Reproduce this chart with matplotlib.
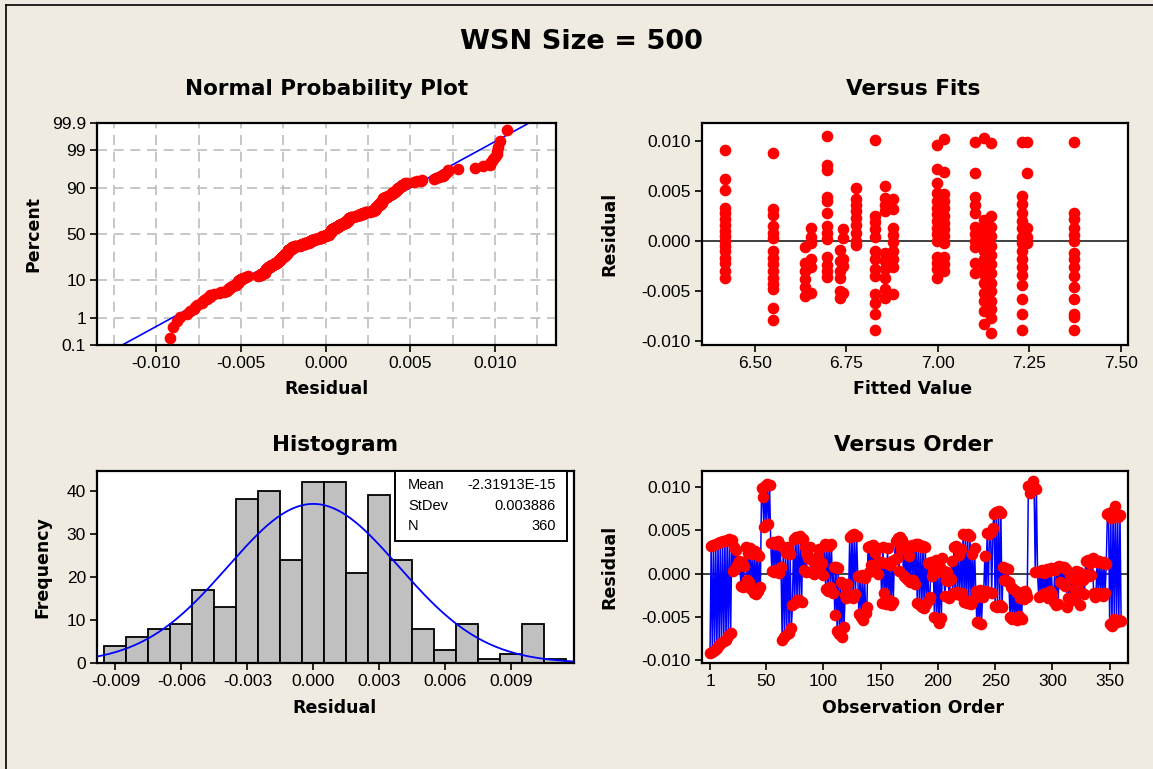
#!/usr/bin/env python3
"""
Residual plots for WSN Size = 500 (Minitab four-in-one layout).
Normal probability plot, versus fits, histogram and versus order.
"""

from statistics import NormalDist
import numpy as np
import matplotlib
matplotlib.use('Agg')
import matplotlib.pyplot as plt
from matplotlib.patches import Rectangle

# residuals in observation order, in units of 1e-4
resid_e4 = [
    # 1-20
    -92, 32, -90, 33, -88, 34, -86, 35, -82, 36, -80, 37, -78, 38, -77, 39, -72, 40, -68, 39,
    # 21-45
    3, 30, 5, 27, 10, 14, 12, -14, 13, -15, 9, 31, -8, 24, -10, 29, -18, 22, -22, 26,
    -24, 22, -20, 20, -15,
    # 46-53
    98, 88, 54, 101, 56, 103, 57, 102,
    # 54-63
    35, 3, 36, 2, 34, 4, 37, 1, 33, 8,
    # 64-72
    -76, 30, -73, 24, -70, 31, -68, 22, -63,
    # 73-82
    -36, 40, -34, 42, -31, 41, -30, 43, -33, 40,
    # 83-100
    4, 30, 2, 22, 18, 31, 2, 15, 14, 0, 4, 3, 20, 28, 8, 12, 12, -2,
    # 101-110
    34, -18, 33, -20, 32, -15, 34, -22, 7, -48,
    # 111-122
    8, -66, 6, -70, -10, -73, -12, -62, -25, -28, -12, -26,
    # 123-130
    42, -25, 44, -28, 45, -24, 43, -3,
    # 131-138
    -47, -4, -50, -2, -53, -5, -46, -38,
    # 139-150
    30, 2, 32, 10, 33, 4, 24, 11, 29, -1, 13, 13,
    # 151-162
    -34, 31, -22, 12, -35, 29, -30, 10, -36, 14, -33, 15,
    # 163-175
    38, 18, 41, 3, 42, 28, 39, -3, 33, -5, 30, -8, 20,
    # 176-192
    -10, 33, -8, 32, -12, 34, -34, 34, -36, 31, -38, 32, -40, 30, -35, 12, -30,
    # 193-212
    -27, 13, -3, 3, -50, 15, -52, 2, -57, 8, -51, 18, 3, -26, -8, 2, -9, -28, -6, 14,
    # 213-232
    -22, 30, -24, 32, -21, 21, -25, 28, -23, 45, -33, 44, -34, 46, -32, 43, -35, 23, -30, 29,
    # 233-245
    -20, -56, -26, -57, -19, -58, -27, -22, 20, -20, 47, -21, 45,
    # 246-262
    48, -23, 52, 69, -37, 71, -38, 72, -36, 70, -39, 7, -8, 6, -9, 5, -10,
    # 263-278
    -50, -15, -52, -18, -51, -20, -53, -22, -49, -28, -52, -21, -29, -20, -23, -27,
    # 279-286
    101, 93, 99, 97, 107, 100, 2, 97,
    # 287-300
    2, -27, 3, -26, 4, -24, 1, -22, 5, -28, 3, -20, 6, -24,
    # 301-320
    -33, 4, -36, 8, -35, 9, -10, 7, -12, 8, -14, 5, -38, -28, -2, -30, -5, -27, -31, -18,
    # 321-340
    3, -12, 2, -36, 0, -22, -8, -24, 14, -1, 16, -3, 12, -2, 18, -23, -27, -25, 13, -22,
    # 341-360
    14, -24, 12, -26, 13, -23, 11, 68, 70, -58, 64, -60, 72, -52, 78, -56, 65, -53, 67, -55,
]

# versus fits: fitted level of each column and the residuals seen in it (1e-4)
fit_levels = [6.420, 6.551, 6.638, 6.653, 6.697, 6.732, 6.742, 6.777, 6.830,
              6.855, 6.877, 6.997, 7.016, 7.101, 7.126, 7.146, 7.231, 7.243, 7.372]
fit_resid_e4 = [
    [91, 62, 51, 33, 28, 22, 16, 10, 5, 0, -5, -10, -17, -22, -30, -37],
    [88, 32, 26, 15, 8, 3, -10, -17, -23, -30, -37, -43, -48, -67, -79],
    [-6, -22, -30, -38, -46, -55],
    [13, 4, -2, -18, -26, -52],
    [105, 76, 71, 44, 40, 28, 15, 8, 2, -16, -24, -30, -36],
    [-9, -20, -30, -37, -50, -57],
    [12, 3, -18, -25, -52],
    [53, 42, 36, 30, 23, 16, 8, 0, -4],
    [101, 25, 19, 12, 4, -10, -18, -28, -35, -53, -62, -73, -89],
    [55, 43, 36, 30, -12, -20, -28, -37, -48, -57],
    [42, 32, 13, 6, -1, -10, -18, -26, -53],
    [96, 72, 58, 48, 40, 33, 27, 20, 13, 7, 0, -16, -22, -28, -37],
    [102, 69, 47, 40, 33, 25, 18, 12, 5, -2, -16, -23, -30],
    [99, 68, 44, 36, 28, 14, 7, 0, -6, -22, -32],
    [103, 21, 14, 6, -2, -10, -18, -26, -33, -42, -52, -60, -70, -83],
    [98, 25, 14, 5, -5, -14, -23, -32, -42, -50, -60, -68, -77, -92],
    [99, 45, 37, 28, 20, 13, 4, -2, -10, -18, -26, -34, -44, -58, -73, -89],
    [99, 68, 13, 4, -2],
    [99, 28, 22, 13, 6, 0, -12, -18, -26, -35, -46, -58, -73, -76, -89],
]

# histogram bins (centres) and frequencies
hist_centers = [-0.009, -0.008, -0.007, -0.006, -0.005, -0.004, -0.003, -0.002, -0.001,
                0.000, 0.001, 0.002, 0.003, 0.004, 0.005, 0.006, 0.007, 0.008, 0.009,
                0.010, 0.011]
hist_counts = [4, 6, 8, 9, 17, 13, 38, 40, 24, 42, 42, 21, 39, 24, 8, 3, 9, 1, 2, 9, 1]
bin_width = 0.001

# summary statistics shown in the histogram box
resid_mean = -2.31913e-15
resid_stdev = 0.003886
n_obs = 360

prob_ticks = [0.1, 1, 10, 50, 90, 99, 99.9]
prob_tick_labels = ['0.1', '1', '10', '50', '90', '99', '99.9']

W, H = 1153, 769
BG = '#EFEBE1'
RED = '#FF0000'
BLUE = '#0000FF'
TICK_FONT = 'Liberation Sans'
MS = 8.4

plt.rcParams['font.family'] = ['DejaVu Sans']
plt.rcParams['axes.unicode_minus'] = False


def px_box(left, top, right, bottom):
    """Axes rectangle from pixel edges (origin top-left)."""
    return [left / W, 1 - bottom / H, (right - left) / W, (bottom - top) / H]


def fig_text(fig, x, y, s, **kw):
    fig.text(x / W, 1 - y / H, s, ha='center', va='center', **kw)


def style_axes(ax):
    for sp in ax.spines.values():
        sp.set_linewidth(1.6)
        sp.set_color('black')
    ax.tick_params(direction='out', length=5, width=1.2, labelsize=12.5,
                   top=False, right=False, pad=3)
    for lab in ax.get_xticklabels() + ax.get_yticklabels():
        lab.set_family(TICK_FONT)


resid = np.array(resid_e4) * 1e-4
obs = np.arange(1, len(resid) + 1)

fig = plt.figure(figsize=(W / 100, H / 100), dpi=100, facecolor=BG)

# outer frame (left and top edges visible)
fig.add_artist(plt.Line2D([6 / W, 6 / W], [0, 1 - 5 / H], color='black', lw=1.2))
fig.add_artist(plt.Line2D([6 / W, 1], [1 - 5 / H, 1 - 5 / H], color='black', lw=1.2))

fig_text(fig, 581, 42, 'WSN Size = 500', fontsize=19.5, fontweight='bold')

# ---------------- Normal probability plot ----------------
nd = NormalDist()
ax1 = fig.add_axes(px_box(97, 123, 556, 345))
srt = np.sort(resid)
ranks = (np.arange(1, len(srt) + 1) - 0.3) / (len(srt) + 0.4)
zq = np.array([nd.inv_cdf(p) for p in ranks])
zlo, zhi = nd.inv_cdf(0.001), nd.inv_cdf(0.999)

for xv in np.arange(-0.0125, 0.01251, 0.0025):
    ax1.axvline(xv, color='#BEBEBE', lw=1.2, ls=(0, (6, 4)), zorder=0)
for p in prob_ticks[1:-1]:
    ax1.axhline(nd.inv_cdf(p / 100), color='#BEBEBE', lw=1.2, ls=(0, (6, 4)), zorder=0)

zline = np.linspace(zlo, zhi, 50)
ax1.plot(resid_mean + resid_stdev * zline, zline, color=BLUE, lw=1.2, zorder=2)
ax1.plot(srt, zq, 'o', color=RED, ms=MS, mec='none', zorder=3)
ax1.set_xlim(-0.0135, 0.0136)
ax1.set_ylim(zlo, zhi)
ax1.set_xticks([-0.010, -0.005, 0.0, 0.005, 0.010])
ax1.set_xticklabels(['-0.010', '-0.005', '0.000', '0.005', '0.010'])
ax1.set_yticks([nd.inv_cdf(p / 100) for p in prob_ticks])
ax1.set_yticklabels(prob_tick_labels)
style_axes(ax1)
fig_text(fig, 327, 89, 'Normal Probability Plot', fontsize=15.5, fontweight='bold')
fig_text(fig, 327, 389, 'Residual', fontsize=12.5, fontweight='bold')
fig_text(fig, 33, 234, 'Percent', fontsize=12.5, fontweight='bold', rotation=90)

# ---------------- Versus fits ----------------
ax2 = fig.add_axes(px_box(702, 123, 1128, 345))
fx = np.repeat(fit_levels, [len(c) for c in fit_resid_e4])
fy = np.concatenate([np.array(c) for c in fit_resid_e4]) * 1e-4
ax2.axhline(0, color='#404040', lw=1.4, zorder=1)
ax2.plot(fx, fy, 'o', color=RED, ms=MS, mec='none', zorder=3)
ax2.set_xlim(6.356, 7.52)
ax2.set_ylim(-0.0104, 0.0118)
ax2.set_xticks([6.50, 6.75, 7.00, 7.25, 7.50])
ax2.set_xticklabels(['6.50', '6.75', '7.00', '7.25', '7.50'])
ax2.set_yticks([-0.010, -0.005, 0.0, 0.005, 0.010])
ax2.set_yticklabels(['-0.010', '-0.005', '0.000', '0.005', '0.010'])
style_axes(ax2)
fig_text(fig, 913, 89, 'Versus Fits', fontsize=15.5, fontweight='bold')
fig_text(fig, 913, 389, 'Fitted Value', fontsize=12.5, fontweight='bold')
fig_text(fig, 609, 234, 'Residual', fontsize=12.5, fontweight='bold', rotation=90)

# ---------------- Histogram ----------------
ax3 = fig.add_axes(px_box(97, 471, 574, 663))
ax3.bar(hist_centers, hist_counts, width=bin_width, color='#C0C0C0',
        edgecolor='black', linewidth=1.3, zorder=2)
xlo, xhi = -0.00984, 0.01186
xs = np.linspace(xlo, xhi, 300)
curve = n_obs * bin_width * np.array([NormalDist(resid_mean, resid_stdev).pdf(v) for v in xs])
ax3.plot(xs, curve, color=BLUE, lw=1.3, zorder=3)
ax3.set_xlim(xlo, xhi)
ax3.set_ylim(0, 44.6)
ax3.set_xticks([-0.009, -0.006, -0.003, 0.0, 0.003, 0.006, 0.009])
ax3.set_xticklabels(['-0.009', '-0.006', '-0.003', '0.000', '0.003', '0.006', '0.009'])
ax3.set_yticks([0, 10, 20, 30, 40])
style_axes(ax3)

box = Rectangle((0.6256, 0.638), 0.36, 0.362, transform=ax3.transAxes,
                facecolor='white', edgecolor='black', lw=1.4, zorder=5)
ax3.add_patch(box)
stats_rows = [('Mean', '-2.31913E-15'), ('StDev', f'{resid_stdev:.6f}'), ('N', f'{n_obs}')]
for i, (name, val) in enumerate(stats_rows):
    yy = 0.927 - i * 0.108
    ax3.text(0.652, yy, name, transform=ax3.transAxes, ha='left', va='center',
             fontsize=10.5, family=TICK_FONT, zorder=6)
    ax3.text(0.962, yy, val, transform=ax3.transAxes, ha='right', va='center',
             fontsize=10.5, family=TICK_FONT, zorder=6)
fig_text(fig, 335, 445, 'Histogram', fontsize=15.5, fontweight='bold')
fig_text(fig, 335, 708, 'Residual', fontsize=12.5, fontweight='bold')
fig_text(fig, 42, 567, 'Frequency', fontsize=12.5, fontweight='bold', rotation=90)

# ---------------- Versus order ----------------
ax4 = fig.add_axes(px_box(702, 471, 1128, 663))
ax4.axhline(0, color='#404040', lw=1.4, zorder=1)
ax4.plot(obs, resid, color=BLUE, lw=1.1, zorder=2)
ax4.plot(obs, resid, 'o', color=RED, ms=MS, mec='none', zorder=3)
ax4.set_xlim(-6, 366)
ax4.set_ylim(-0.0103, 0.0118)
ax4.set_xticks([1, 50, 100, 150, 200, 250, 300, 350])
ax4.set_yticks([-0.010, -0.005, 0.0, 0.005, 0.010])
ax4.set_yticklabels(['-0.010', '-0.005', '0.000', '0.005', '0.010'])
style_axes(ax4)
fig_text(fig, 913, 445, 'Versus Order', fontsize=15.5, fontweight='bold')
fig_text(fig, 913, 708, 'Observation Order', fontsize=12.5, fontweight='bold')
fig_text(fig, 609, 567, 'Residual', fontsize=12.5, fontweight='bold', rotation=90)

fig.savefig('out.png', dpi=100, facecolor=BG)
